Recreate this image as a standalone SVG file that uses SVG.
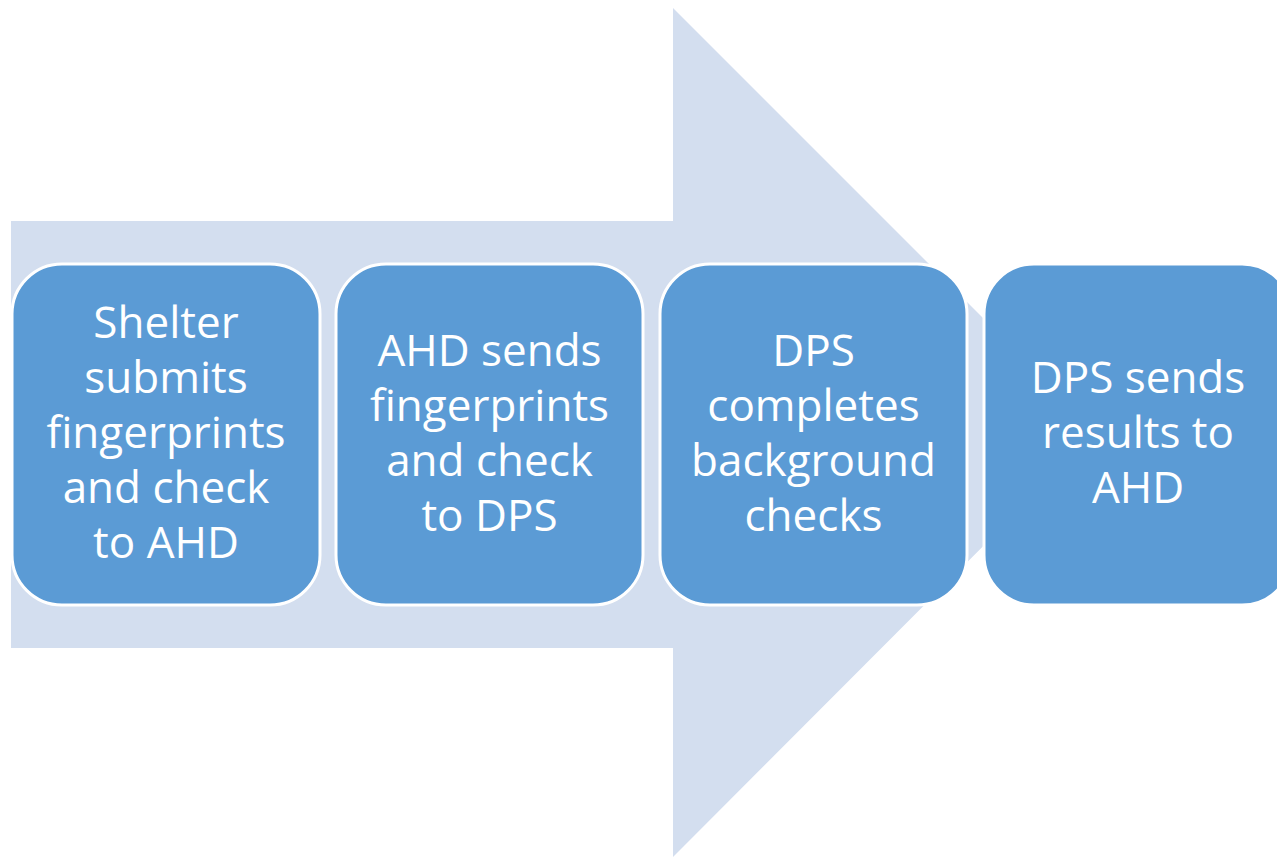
<svg xmlns="http://www.w3.org/2000/svg" width="1277" height="857" viewBox="0 0 1277 857">
<style>
.step{fill:#5B9BD5;stroke:#FFFFFF;stroke-width:3}
.lbl{font-family:"Open Sans","Liberation Sans",sans-serif;font-size:44px;fill:#FFFFFF;text-anchor:middle}
</style>
<rect width="1277" height="857" fill="#FFFFFF"/>
<g id="background-arrow">
<polygon points="11,221 673,221 673,8 1097,432 673,857 673,648 11,648" fill="#D3DEEF"/>
</g>
<g id="connectors"></g>
<g id="step1">
<rect class="step" x="12" y="264" width="308" height="341" rx="50" ry="50"/>
<text class="lbl"><tspan x="166" y="338">Shelter</tspan><tspan x="166" y="393">submits</tspan><tspan x="166" y="448">fingerprints</tspan><tspan x="166" y="503">and check</tspan><tspan x="166" y="558">to AHD</tspan></text>
</g>
<g id="step2">
<rect class="step" x="336" y="264" width="307" height="341" rx="50" ry="50"/>
<text class="lbl"><tspan x="489.5" y="366">AHD sends</tspan><tspan x="489.5" y="421">fingerprints</tspan><tspan x="489.5" y="476">and check</tspan><tspan x="489.5" y="531">to DPS</tspan></text>
</g>
<g id="step3">
<rect class="step" x="660" y="264" width="307" height="341" rx="50" ry="50"/>
<text class="lbl"><tspan x="813.5" y="366">DPS</tspan><tspan x="813.5" y="421">completes</tspan><tspan x="813.5" y="476">background</tspan><tspan x="813.5" y="531">checks</tspan></text>
</g>
<g id="step4">
<rect class="step" x="984" y="264" width="308" height="341" rx="50" ry="50"/>
<text class="lbl"><tspan x="1138" y="393">DPS sends</tspan><tspan x="1138" y="448">results to</tspan><tspan x="1138" y="503">AHD</tspan></text>
</g>
</svg>
